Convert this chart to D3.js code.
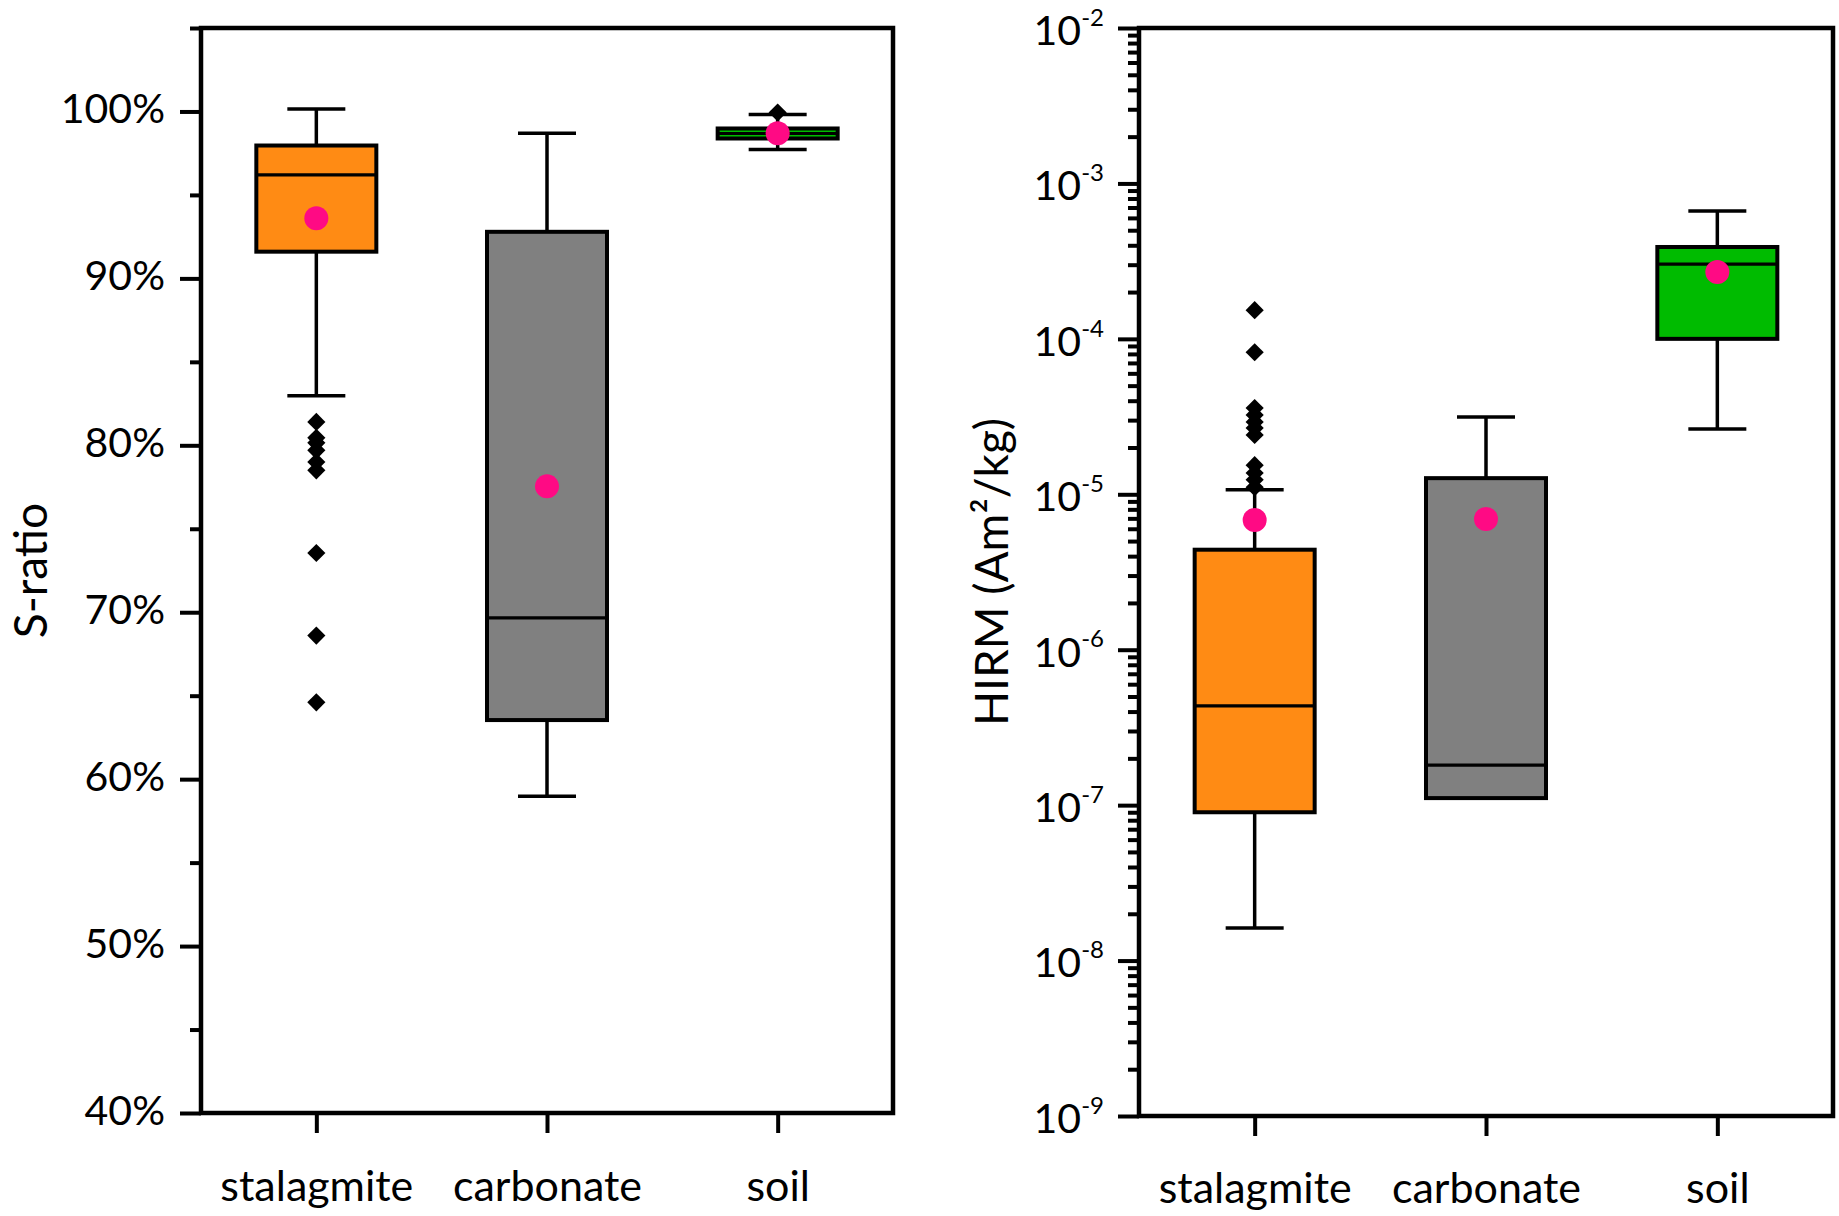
<!DOCTYPE html>
<html>
<head>
<meta charset="utf-8">
<script src="https://cdn.jsdelivr.net/npm/d3@7"></script>
<style>
body{margin:0;background:#fff;}
text{font-family:Lato,"Open Sans",sans-serif;fill:#000;}
</style>
</head>
<body>
<svg id="chart" width="1839" height="1216"></svg>
<script>
var categories = ["stalagmite", "carbonate", "soil"];
var boxColors = ["#ff8b14", "#808080", "#00bb00"];
var meanColor = "#ff0a84";

// S-ratio
var sLow    = [0.8297, 0.5897, 0.9772];
var sQ1     = [0.9160, 0.6354, 0.9838];
var sMedian = [0.9620, 0.6966, 0.9868];
var sQ3     = [0.9796, 0.9279, 0.9898];
var sHigh   = [1.0014, 0.9870, 0.9982];
var sMean   = [0.9360, 0.7754, 0.9870];
var sOutliers = [
    [0.814, 0.8045, 0.8015, 0.797, 0.790, 0.785, 0.7355, 0.686, 0.646],
    [],
    [0.9994]
];
var sTicks = [0.4, 0.5, 0.6, 0.7, 0.8, 0.9, 1.0];
var sMinorTicks = [0.45, 0.55, 0.65, 0.75, 0.85, 0.95, 1.05];

// HIRM (Am2/kg)
var hLow    = [1.62e-8, 1.11e-7, 2.63e-5];
var hQ1     = [9.0e-8, 1.11e-7, 1.0e-4];
var hMedian = [4.35e-7, 1.81e-7, 3.03e-4];
var hQ3     = [4.4e-6, 1.27e-5, 3.9e-4];
var hHigh   = [1.07e-5, 3.14e-5, 6.65e-4];
var hMean   = [6.84e-6, 6.94e-6, 2.69e-4];
var hOutliers = [
    [1.53e-4, 8.2e-5, 3.59e-5, 3.24e-5, 2.92e-5, 2.67e-5, 2.41e-5, 1.54e-5, 1.37e-5, 1.24e-5, 1.11e-5],
    [],
    []
];
var hTicks = [1e-9, 1e-8, 1e-7, 1e-6, 1e-5, 1e-4, 1e-3, 1e-2];
var hMinorTicks = [];
hTicks.slice(0, -1).forEach(function(p){
    for (var k = 2; k <= 9; k++) hMinorTicks.push(k * p);
});

var svg = d3.select("#chart");

function drawPanel(o){
    var g = svg.append("g");
    var x = d3.scalePoint().domain(categories).range([o.left, o.right]).padding(0.5);
    var y = o.y;

    var rows = categories.map(function(c, i){
        return {cat: c, color: boxColors[i], low: o.low[i], q1: o.q1[i], med: o.med[i],
                q3: o.q3[i], high: o.high[i], mean: o.mean[i], out: o.out[i]};
    });

    // minor ticks first, then major ticks with labels
    g.append("g")
        .attr("transform", "translate(" + o.left + ",0)")
        .call(d3.axisLeft(y).tickValues(o.minor).tickSize(11).tickFormat(""))
        .call(function(a){ a.select(".domain").remove(); })
        .selectAll("line").attr("stroke", "#000").attr("stroke-width", 4);

    var yAxis = g.append("g")
        .attr("transform", "translate(" + o.left + ",0)")
        .call(d3.axisLeft(y).tickValues(o.major).tickSize(21).tickPadding(o.pad).tickFormat(o.fmt));
    yAxis.select(".domain").remove();
    yAxis.selectAll("line").attr("stroke", "#000").attr("stroke-width", 4);
    yAxis.selectAll("text").style("font-size", "41px").attr("dy", o.labelDy);
    if (o.sup) {
        yAxis.selectAll(".tick text").each(function(d){
            var t = d3.select(this);
            t.append("tspan").text("10");
            t.append("tspan").attr("dy", "-0.8em").style("font-size", "24px")
                .text(String(Math.round(Math.log10(d))));
        });
    }

    var xAxis = g.append("g")
        .attr("transform", "translate(0," + o.bottom + ")")
        .call(d3.axisBottom(x).tickSize(20));
    xAxis.select(".domain").remove();
    xAxis.selectAll("line").attr("stroke", "#000").attr("stroke-width", 4);
    xAxis.selectAll("text").style("font-size", "43px").attr("y", o.catY).attr("dy", 0);

    // frame
    g.append("rect")
        .attr("x", o.left).attr("y", o.top)
        .attr("width", o.right - o.left).attr("height", o.bottom - o.top)
        .attr("fill", "none").attr("stroke", "#000").attr("stroke-width", 4.5);

    var bw = 120, cw = 58;
    var box = g.selectAll("g.box").data(rows).enter().append("g")
        .attr("class", "box")
        .attr("transform", function(d){ return "translate(" + x(d.cat) + ",0)"; });

    // whiskers and caps
    box.append("line").attr("x1", 0).attr("x2", 0)
        .attr("y1", function(d){ return y(d.high); }).attr("y2", function(d){ return y(d.q3); })
        .attr("stroke", "#000").attr("stroke-width", 3.5);
    box.append("line").attr("x1", 0).attr("x2", 0)
        .attr("y1", function(d){ return y(d.q1); }).attr("y2", function(d){ return y(d.low); })
        .attr("stroke", "#000").attr("stroke-width", 3.5);
    box.append("line").attr("x1", -cw/2).attr("x2", cw/2)
        .attr("y1", function(d){ return y(d.high); }).attr("y2", function(d){ return y(d.high); })
        .attr("stroke", "#000").attr("stroke-width", 3.5);
    box.append("line").attr("x1", -cw/2).attr("x2", cw/2)
        .attr("y1", function(d){ return y(d.low); }).attr("y2", function(d){ return y(d.low); })
        .attr("stroke", "#000").attr("stroke-width", 3.5);

    box.append("rect")
        .attr("x", -bw/2).attr("width", bw)
        .attr("y", function(d){ return y(d.q3); })
        .attr("height", function(d){ return y(d.q1) - y(d.q3); })
        .attr("fill", function(d){ return d.color; })
        .attr("stroke", "#000").attr("stroke-width", 4);
    box.append("line").attr("x1", -bw/2).attr("x2", bw/2)
        .attr("y1", function(d){ return y(d.med); }).attr("y2", function(d){ return y(d.med); })
        .attr("stroke", "#000").attr("stroke-width", 3.2);

    // outliers as diamonds
    var diamond = d3.symbol().type(d3.symbolSquare).size(165);
    box.selectAll("path.out").data(function(d){ return d.out; }).enter().append("path")
        .attr("class", "out")
        .attr("d", diamond)
        .attr("transform", function(v){ return "translate(0," + y(v) + ") rotate(45)"; })
        .attr("fill", "#000");

    box.append("circle")
        .attr("cy", function(d){ return y(d.mean); })
        .attr("r", 12)
        .attr("fill", meanColor);

    g.append("text")
        .attr("transform", "translate(" + o.titleX + "," + ((o.top + o.bottom) / 2) + ") rotate(-90)")
        .attr("text-anchor", "middle")
        .style("font-size", "46px")
        .text(o.title);
}

drawPanel({
    left: 201, right: 893, top: 28, bottom: 1113,
    y: d3.scaleLinear().domain([0.40, 1.05]).range([1113, 28]),
    major: sTicks, minor: sMinorTicks, fmt: d3.format(".0%"), pad: 15, labelDy: "0.27em",
    low: sLow, q1: sQ1, med: sMedian, q3: sQ3, high: sHigh, mean: sMean, out: sOutliers,
    catY: 88, titleX: 47, title: "S-ratio"
});

drawPanel({
    left: 1139, right: 1833, top: 28, bottom: 1116,
    y: d3.scaleLog().domain([1e-9, 1e-2]).range([1116, 28]),
    major: hTicks, minor: hMinorTicks, fmt: function(){ return ""; }, pad: 14, labelDy: "0.4em", sup: true,
    low: hLow, q1: hQ1, med: hMedian, q3: hQ3, high: hHigh, mean: hMean, out: hOutliers,
    catY: 87, titleX: 1008, title: "HIRM (Am²/kg)"
});
</script>
</body>
</html>
